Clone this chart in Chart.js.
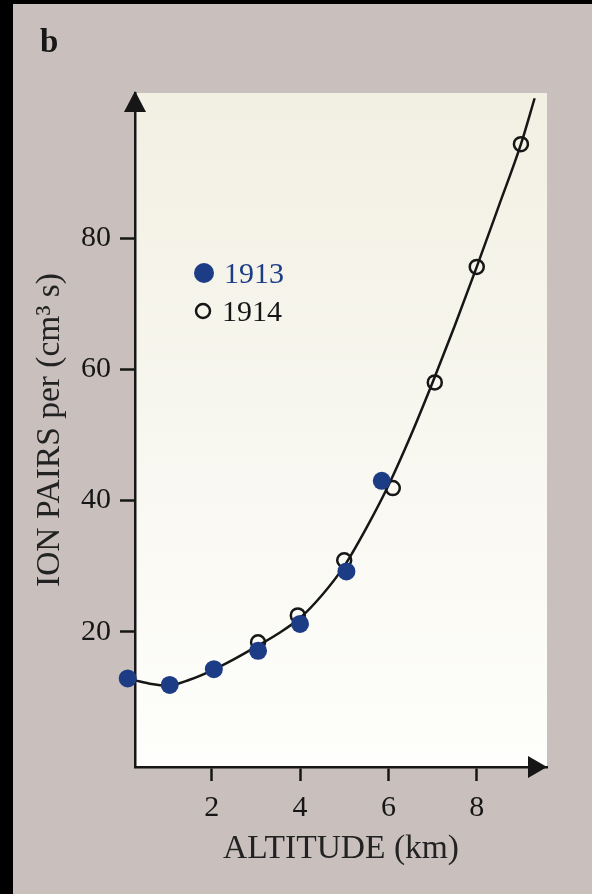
<!DOCTYPE html>
<html>
<head>
<meta charset="utf-8">
<script src="https://cdn.jsdelivr.net/npm/chart.js@4"></script>
<style>
  html, body { margin: 0; padding: 0; background: #000; }
  canvas { display: block; }
</style>
</head>
<body>
<canvas id="ionChart" width="592" height="894"></canvas>
<script>
// values (altitude km, ion pairs per cm3 s)
const alt1913 = [0.1, 1.05, 2.05, 3.05, 4.0, 5.05, 5.85];
const ion1913 = [12.9, 11.9, 14.3, 17.1, 21.2, 29.2, 43.0];
const alt1914 = [3.05, 3.95, 5.0, 6.1, 7.05, 8.0, 9.0];
const ion1914 = [18.4, 22.5, 30.9, 41.9, 58.0, 75.6, 94.3];
const fitAlt = [0.27, 0.6, 1.0, 1.5, 2.0, 2.5, 3.0, 3.5, 4.0, 4.5, 5.0, 5.5, 6.0, 6.5, 7.0, 7.5, 8.0, 8.5, 9.0, 9.31];
const fitIon = [12.6, 12.1, 11.8, 12.7, 14.1, 15.8, 17.7, 19.7, 22.1, 25.6, 30.0, 35.8, 42.3, 49.8, 58.0, 66.6, 75.6, 84.9, 94.3, 101.3];
const xTicks = [2, 4, 6, 8];
const yTicks = [20, 40, 60, 80];

const serif = '"Liberation Serif", "DejaVu Serif", serif';
const ink = '#161616';
const blue = '#1d3c86';

const toPoints = (xs, ys) => xs.map((x, i) => ({x: x, y: ys[i]}));

const frame = {
  id: 'frame',
  beforeDraw(chart) {
    const {ctx, chartArea: a, width, height} = chart;
    ctx.save();
    ctx.fillStyle = '#000';
    ctx.fillRect(0, 0, width, height);
    ctx.fillStyle = '#c9c0be';
    ctx.fillRect(13, 4, width - 13, height - 4);
    const g = ctx.createLinearGradient(0, a.top, 0, a.bottom);
    g.addColorStop(0, '#f2f0e3');
    g.addColorStop(1, '#fefefc');
    ctx.fillStyle = g;
    ctx.fillRect(a.left, a.top, a.right - a.left, a.bottom - a.top);
    ctx.restore();
  },
  afterDraw(chart) {
    const {ctx, chartArea: a} = chart;
    ctx.save();
    // axis arrows
    ctx.fillStyle = ink;
    ctx.beginPath();
    ctx.moveTo(a.left, a.top - 2);
    ctx.lineTo(a.left - 11, a.top + 19);
    ctx.lineTo(a.left + 11, a.top + 19);
    ctx.closePath();
    ctx.fill();
    ctx.beginPath();
    ctx.moveTo(a.right, a.bottom);
    ctx.lineTo(a.right - 19, a.bottom - 11);
    ctx.lineTo(a.right - 19, a.bottom + 11);
    ctx.closePath();
    ctx.fill();

    // panel letter
    ctx.font = 'bold 33px ' + serif;
    ctx.textBaseline = 'alphabetic';
    ctx.fillText('b', 40, 52);

    // legend
    const ds = chart.data.datasets;
    ctx.font = '30px ' + serif;
    ctx.fillStyle = blue;
    ctx.beginPath();
    ctx.arc(204, 273, 10, 0, Math.PI * 2);
    ctx.fill();
    ctx.fillText(ds[0].label, 224, 283);
    ctx.strokeStyle = ink;
    ctx.lineWidth = 2.5;
    ctx.beginPath();
    ctx.arc(203, 311, 7, 0, Math.PI * 2);
    ctx.stroke();
    ctx.fillStyle = ink;
    ctx.fillText(ds[1].label, 222, 321);
    ctx.restore();
  }
};

const config = {
  type: 'scatter',
  data: {
    datasets: [
      {
        label: '1913',
        data: toPoints(alt1913, ion1913),
        pointRadius: 9,
        pointBackgroundColor: blue,
        pointBorderWidth: 0,
        clip: false
      },
      {
        label: '1914',
        data: toPoints(alt1914, ion1914),
        pointRadius: 7,
        pointBackgroundColor: 'rgba(0,0,0,0)',
        pointBorderColor: ink,
        pointBorderWidth: 2.5,
        clip: false
      },
      {
        label: 'fit',
        data: toPoints(fitAlt, fitIon),
        showLine: true,
        pointRadius: 0,
        borderColor: ink,
        borderWidth: 2.5,
        cubicInterpolationMode: 'monotone',
        fill: false
      }
    ]
  },
  options: {
    responsive: false,
    animation: false,
    layout: { padding: { top: 93, right: 45, bottom: 0, left: 0 } },
    plugins: {
      legend: { display: false },
      tooltip: { enabled: false }
    },
    scales: {
      x: {
        type: 'linear',
        min: 0.265,
        max: 9.59,
        afterBuildTicks: s => { s.ticks = xTicks.map(v => ({value: v})); },
        afterFit: s => { s.height = 127; },
        border: { display: true, color: ink, width: 2.5 },
        grid: { drawOnChartArea: false, drawTicks: true, tickLength: 14, tickColor: ink, tickWidth: 2.5 },
        ticks: { color: ink, font: { family: serif, size: 30 }, padding: 9, maxRotation: 0, autoSkip: false },
        title: {
          display: true,
          text: 'ALTITUDE (km)',
          color: '#222',
          font: { family: serif, size: 33.5 },
          padding: { top: 0, bottom: 25 }
        }
      },
      y: {
        type: 'linear',
        min: -0.6,
        max: 102.1,
        afterBuildTicks: s => { s.ticks = yTicks.map(v => ({value: v})); },
        afterFit: s => { s.width = 135; },
        border: { display: true, color: ink, width: 2.5 },
        grid: { drawOnChartArea: false, drawTicks: true, tickLength: 15, tickColor: ink, tickWidth: 2.5 },
        ticks: { color: ink, font: { family: serif, size: 30 }, padding: 9, autoSkip: false },
        title: {
          display: true,
          text: 'ION PAIRS per (cm³ s)',
          color: '#222',
          font: { family: serif, size: 33.5 },
          padding: { top: 30, bottom: 0 }
        }
      }
    }
  },
  plugins: [frame]
};

const ionChart = new Chart(document.getElementById('ionChart'), config);
</script>
</body>
</html>
